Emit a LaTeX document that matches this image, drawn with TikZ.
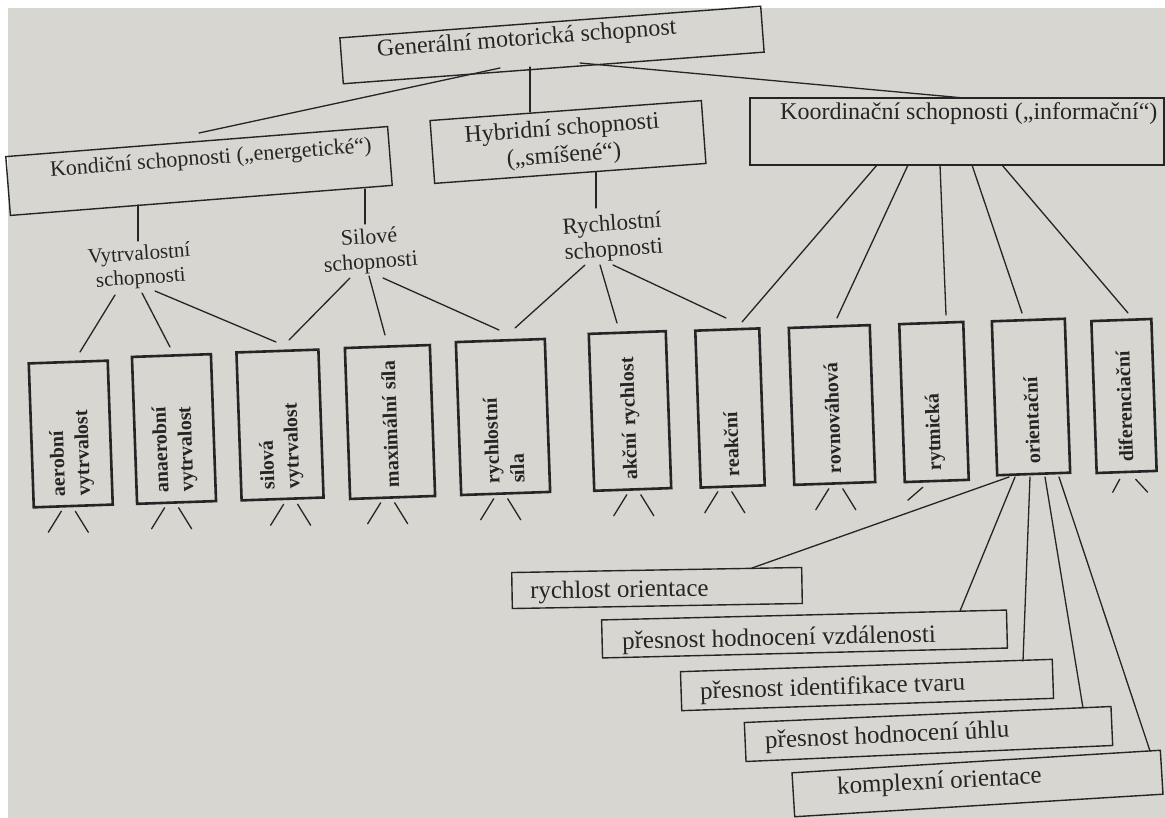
\documentclass[tikz,border=0pt]{standalone}
\usepackage{fontspec}
\setmainfont{Liberation Serif}
\definecolor{paper}{RGB}{216,214,209}
\definecolor{ink}{RGB}{38,36,36}
\newcommand\mylegs[2]{%
  \draw[conn] ([shift={(#2-7,4)}]#1.west) -- ++(-13,21);
  \draw[conn] ([shift={(#2+7,4)}]#1.west) -- ++(13,21);}
\begin{document}
\begin{tikzpicture}[x=1pt,y=-1pt,
  conn/.style={draw=ink,line width=1.3pt,line cap=round},
  hbox/.style={draw=ink,line width=1.4pt,inner sep=0pt},
  vbox/.style={draw=ink,line width=2.6pt,rotate=92,inner xsep=10pt,inner ysep=0pt,
    align=left,text=ink,font=\bfseries\fontsize{20}{25}\selectfont},
  lab/.style n args={2}{text=ink,inner sep=0pt,font=\fontsize{#1}{#2}\selectfont}]
\useasboundingbox (0,0) rectangle (1165,818);
\fill[white] (0,0) rectangle (1165,818);
\fill[paper] (8,8) rectangle (1165,818);

% top level
\node[hbox,rotate=4.3,minimum width=422pt,minimum height=46pt] (gen) at (552,45) {};
\node[lab={24}{26},rotate=4.3,anchor=west] (gent) at (377,51) {Generální motorická schopnost};

\node[hbox,rotate=4.5,minimum width=383pt,minimum height=59pt] (kond) at (199,171) {};
\node[lab={22}{24},rotate=4.3,anchor=west] (kondt) at (50,171) {Kondiční schopnosti („energetické“)};

\node[hbox,rotate=4.2,minimum width=272pt,minimum height=63pt] (hyb) at (568,142) {};
\node[lab={24}{27},rotate=4.2,align=center] (hybt) at (563,143) {Hybridní schopnosti\\(„smíšené“)};

\node[hbox,minimum width=414pt,minimum height=67pt] (koord) at (957,131.5) {};
\node[lab={24}{26},anchor=west] (koordt) at (780,114) {Koordinační schopnosti („informační“)};

% middle labels
\node[lab={21}{24},rotate=4,align=center] (vytr) at (140,267) {Vytrvalostní\\schopnosti};
\node[lab={22}{25},rotate=4,align=center] (silo) at (370,251) {Silové\\schopnosti};
\node[lab={23}{26},rotate=4,align=center] (rych) at (613,238) {Rychlostní\\schopnosti};

% vertical boxes
\node[vbox,text width=124pt,minimum height=79pt] (aer) at (70.75,434) {aerobní\\vytrvalost};
\node[vbox,text width=127pt,minimum height=79pt] (ana) at (174,429) {anaerobní\\vytrvalost};
\node[vbox,text width=128pt,minimum height=82pt] (sil) at (280,425) {silová\\vytrvalost};
\node[vbox,text width=131pt,minimum height=85pt] (max) at (390,422) {maximální síla};
\node[vbox,text width=133pt,minimum height=89pt] (rsi) at (503,417) {rychlostní\\síla};
\node[vbox,text width=137pt,minimum height=77pt] (akc) at (630,411) {akční rychlost};
\node[vbox,text width=137pt,minimum height=64pt] (rea) at (730,408) {reakční};
\node[vbox,text width=137pt,minimum height=81pt] (rov) at (832,405) {rovnováhová};
\node[vbox,text width=138pt,minimum height=64pt] (ryt) at (934,402) {rytmická};
\node[vbox,text width=134pt,minimum height=73pt] (ori) at (1031,397) {orientační};
\node[vbox,text width=132pt,minimum height=60pt] (dif) at (1124,396) {diferenciační};

% bottom boxes
\node[hbox,rotate=1,minimum width=290pt,minimum height=36pt] (ro) at (657,588) {};
\node[lab={25}{27},rotate=1,anchor=west] (rot) at (530,593) {rychlost orientace};
\node[hbox,rotate=1.4,minimum width=405pt,minimum height=38pt] (pv) at (804.5,634) {};
\node[lab={25}{27},rotate=1.3,anchor=west] (pvt) at (622,643) {přesnost hodnocení vzdálenosti};
\node[hbox,rotate=1.9,minimum width=372pt,minimum height=39pt] (pi) at (867,685) {};
\node[lab={25}{27},rotate=1.9,anchor=west] (pit) at (700,693) {přesnost identifikace tvaru};
\node[hbox,rotate=2.5,minimum width=367pt,minimum height=39pt] (pu) at (928.5,734) {};
\node[lab={25}{27},rotate=2.5,anchor=west] (put) at (765,742) {přesnost hodnocení úhlu};
\node[hbox,rotate=3.5,minimum width=369pt,minimum height=44pt] (pk) at (977.5,783.5) {};
\node[lab={25}{27},rotate=3,anchor=west] (pkt) at (837,788) {komplexní orientace};

% connector end points
\coordinate (gk1) at (500,68); \coordinate (gk2) at (199,133);
\coordinate (gh1) at (530,67); \coordinate (gh2) at (530,112);
\coordinate (gc1) at (580,63); \coordinate (gc2) at (964,98);
\coordinate (kv1) at (138,205); \coordinate (kv2) at (138,241);
\coordinate (ks1) at (365,189); \coordinate (ks2) at (365,224);
\coordinate (hr1) at (596,172); \coordinate (hr2) at (596,208);
\coordinate (c1a) at (877,165); \coordinate (c1b) at (742,322);
\coordinate (c2a) at (908,165); \coordinate (c2b) at (837,318);
\coordinate (c3a) at (940,165); \coordinate (c3b) at (946,315);
\coordinate (c4a) at (972,165); \coordinate (c4b) at (1022,313);
\coordinate (c5a) at (1002,165); \coordinate (c5b) at (1128,313);
\coordinate (v1a) at (115,295); \coordinate (v1b) at (80,352);
\coordinate (v2a) at (142,293); \coordinate (v2b) at (170,347);
\coordinate (v3a) at (155,291); \coordinate (v3b) at (276,342);
\coordinate (s1a) at (350,278); \coordinate (s1b) at (289,340);
\coordinate (s2a) at (369,276); \coordinate (s2b) at (385,335);
\coordinate (s3a) at (383,278); \coordinate (s3b) at (499,330);
\coordinate (r1a) at (585,265); \coordinate (r1b) at (515,328);
\coordinate (r2a) at (600,265); \coordinate (r2b) at (617,323);
\coordinate (r3a) at (613,265); \coordinate (r3b) at (726,318);
\coordinate (o1a) at (1009,477); \coordinate (o1b) at (752,568);
\coordinate (o2a) at (1015,477); \coordinate (o2b) at (960,611);
\coordinate (o3a) at (1030,477); \coordinate (o3b) at (1023,661);
\coordinate (o4a) at (1045,477); \coordinate (o4b) at (1083,708);
\coordinate (o5a) at (1059,477); \coordinate (o5b) at (1150,751);

\draw[conn] (gk1) -- (gk2);
\draw[conn] (gh1) -- (gh2);
\draw[conn] (gc1) -- (gc2);
\draw[conn] (kv1) -- (kv2);
\draw[conn] (ks1) -- (ks2);
\draw[conn] (hr1) -- (hr2);
\foreach \i in {1,...,5} {\draw[conn] (c\i a) -- (c\i b);}
\foreach \i in {1,2,3} {\draw[conn] (v\i a) -- (v\i b); \draw[conn] (s\i a) -- (s\i b); \draw[conn] (r\i a) -- (r\i b);}
\foreach \i in {1,...,5} {\draw[conn] (o\i a) -- (o\i b);}

% legs
\mylegs{aer}{-5}
\mylegs{ana}{-5}
\mylegs{sil}{8}
\mylegs{max}{-5}
\mylegs{rsi}{-5}
\mylegs{akc}{1}
\mylegs{rea}{-8}
\mylegs{rov}{1}
\draw[conn] ([shift={(-14,5)}]ryt.west) -- ++(-15,13);
\draw[conn] ([shift={(-7,6)}]dif.west) -- ++(-7,13);
\draw[conn] ([shift={(9,6)}]dif.west) -- ++(12,13);
\end{tikzpicture}
\end{document}
